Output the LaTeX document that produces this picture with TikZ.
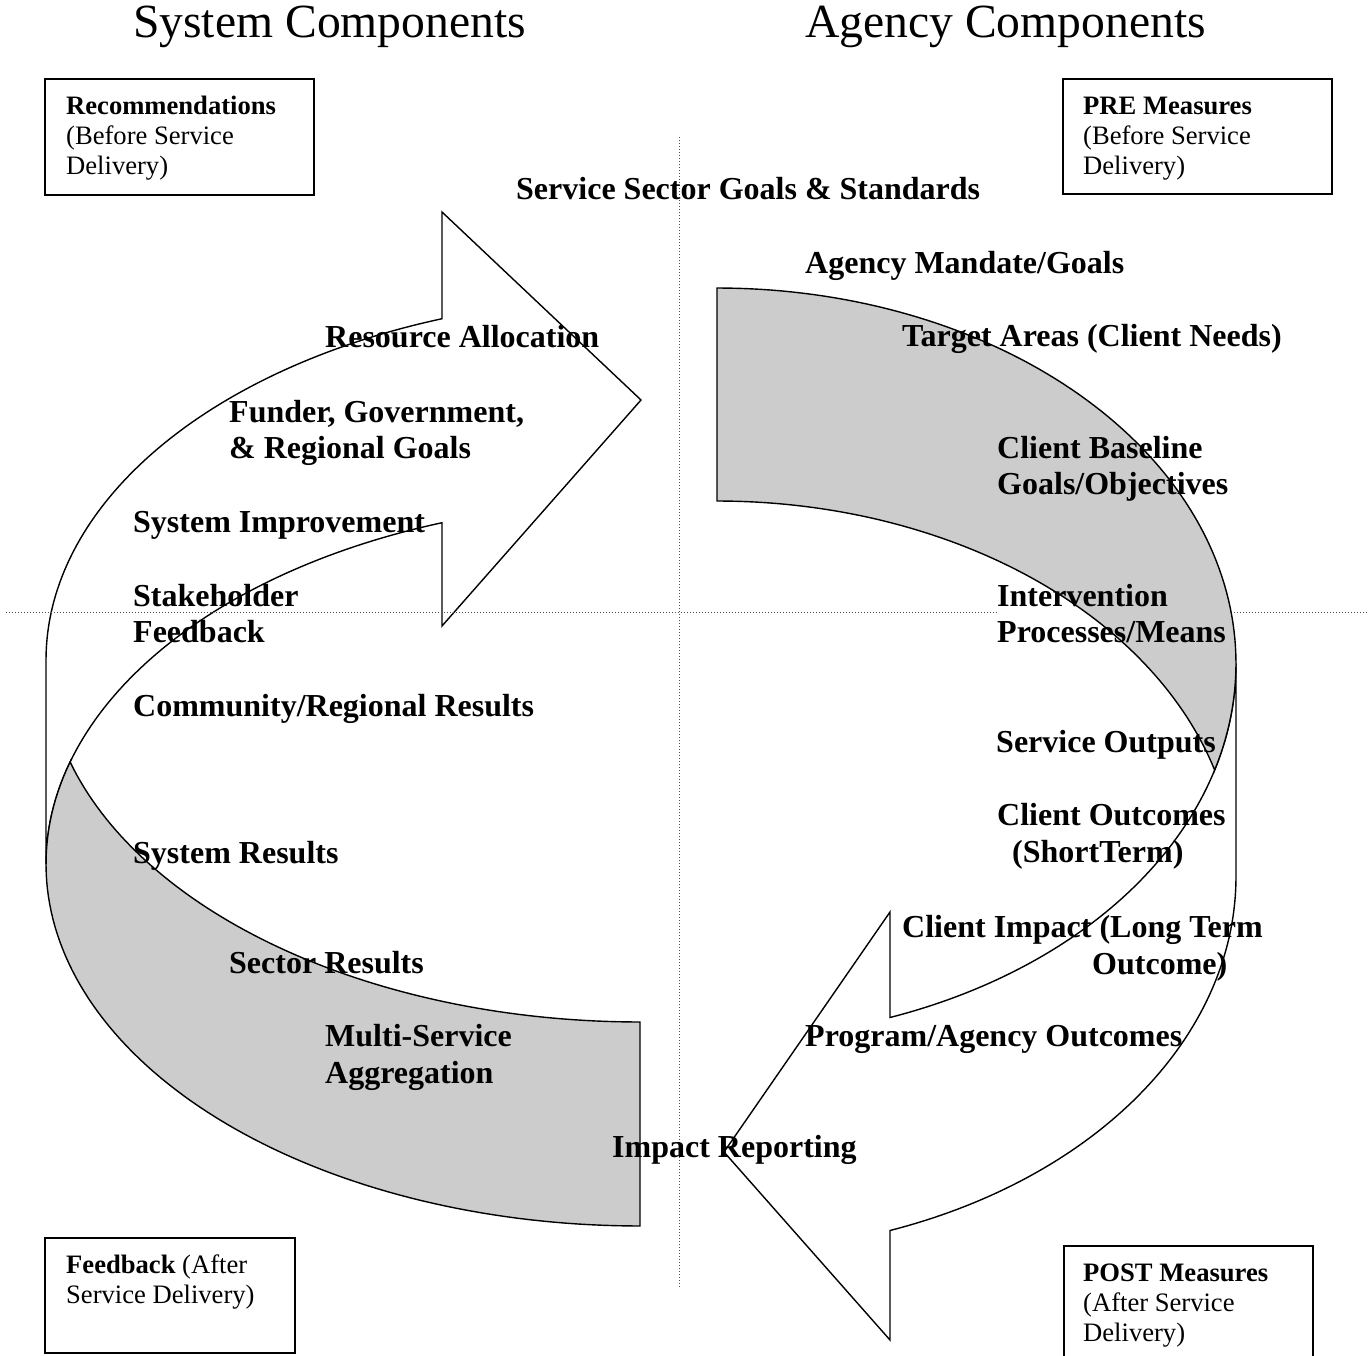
\documentclass[tikz,border=0pt]{standalone}
\usepackage{fontspec}
\setmainfont{Liberation Serif}
\definecolor{bandgray}{HTML}{CCCCCC}
\begin{document}
\begin{tikzpicture}[x=1pt,y=-1pt,
  shapeline/.style={line width=1.4pt, line join=miter},
  lbl/.style={anchor=base west, inner sep=0pt, font=\fontsize{32}{36.8}\selectfont\bfseries},
  boxtext/.style={anchor=base west, inner sep=0pt, font=\fontsize{26.6}{30}\selectfont},
  titletext/.style={anchor=base west, inner sep=0pt, font=\fontsize{47.6}{55}\selectfont},
  infobox/.style={draw, line width=1.8pt},
  guide/.style={line width=1pt, black!70, dash pattern=on 1pt off 2pt},
]
\clip (0,0) rectangle (1369,1356);
\fill[white] (0,0) rectangle (1369,1356);

% ---- left curved arrow (System side) ----
\filldraw[shapeline, fill=white]
  plot[domain=180:250.53,samples=70] ({640+594*cos(\x)},{660+362*sin(\x)})
  -- (442,212) -- (641,400) -- (442,626)
  -- plot[domain=250.53:180,samples=70] ({640+594*cos(\x)},{864+362*sin(\x)})
  -- cycle;
\filldraw[shapeline, fill=bandgray]
  plot[domain=163.63:90,samples=70] ({640+594*cos(\x)},{660+362*sin(\x)})
  -- plot[domain=90:196.37,samples=90] ({640+594*cos(\x)},{864+362*sin(\x)})
  -- cycle;

% ---- right curved arrow (Agency side) ----
\filldraw[shapeline, fill=white]
  plot[domain=0:70.53,samples=70] ({717+519*cos(\x)},{876.5+375.5*sin(\x)})
  -- (890,1340) -- (724,1152) -- (890,912)
  -- plot[domain=70.53:0,samples=70] ({717+519*cos(\x)},{663.5+375.5*sin(\x)})
  -- cycle;
\filldraw[shapeline, fill=bandgray]
  plot[domain=-16.48:-90,samples=70] ({717+519*cos(\x)},{876.5+375.5*sin(\x)})
  -- plot[domain=-90:16.48,samples=90] ({717+519*cos(\x)},{663.5+375.5*sin(\x)})
  -- cycle;

% ---- dotted quadrant guides ----
\coordinate (hl1) at (6,612);
\coordinate (hl2) at (997,612);
\coordinate (hr1) at (1234,612);
\coordinate (hr2) at (1369,612);
\coordinate (vt) at (679,137);
\coordinate (vb) at (679,1288);
\draw[guide] (hl1) -- (hl2);
\draw[guide] (hr1) -- (hr2);
\draw[guide] (vt) -- (vb);

% ---- titles ----
\node[titletext] (t1) at (133,38) {System Components};
\node[titletext] (t2) at (805,38) {Agency Components};

% ---- corner boxes ----
\draw[infobox] (45,79) rectangle (314,195);
\node[boxtext] (rec1) at (66,115) {\bfseries Recommendations};
\node[boxtext] (rec2) at (66,145) {(Before Service};
\node[boxtext] (rec3) at (66,175) {Delivery)};

\draw[infobox] (1063,79) rectangle (1332,194);
\node[boxtext] (pre1) at (1083,115) {\bfseries PRE Measures};
\node[boxtext] (pre2) at (1083,145) {(Before Service};
\node[boxtext] (pre3) at (1083,175) {Delivery)};

\draw[infobox] (45,1238) rectangle (295,1353);
\node[boxtext] (fb1) at (66,1273) {{\bfseries Feedback} (After};
\node[boxtext] (fb2) at (66,1303) {Service Delivery)};

\draw[infobox] (1064,1246) rectangle (1313,1400);
\node[boxtext] (post1) at (1083,1281) {\bfseries POST Measures};
\node[boxtext] (post2) at (1083,1311) {(After Service};
\node[boxtext] (post3) at (1083,1341) {Delivery)};

% ---- labels ----
\node[lbl] (ssg) at (516,200) {Service Sector Goals \& Standards};
\node[lbl] (amg) at (805,274) {Agency Mandate/Goals};
\node[lbl] (ra) at (325,348) {Resource Allocation};
\node[lbl] (ta) at (902,347) {Target Areas (Client Needs)};
\node[lbl] (fg1) at (229,422) {Funder, Government,};
\node[lbl] (fg2) at (229,458) {\& Regional Goals};
\node[lbl] (cb1) at (997,458) {Client Baseline};
\node[lbl] (cb2) at (997,494) {Goals/Objectives};
\node[lbl] (si) at (133,532) {System Improvement};
\node[lbl] (sf1) at (133,606) {Stakeholder};
\node[lbl] (sf2) at (133,642) {Feedback};
\node[lbl] (ip1) at (997,606) {Intervention};
\node[lbl] (ip2) at (997,642) {Processes/Means};
\node[lbl] (crr) at (133,716) {Community/Regional Results};
\node[lbl] (so) at (996,752) {Service Outputs};
\node[lbl] (co1) at (997,825) {Client Outcomes};
\node[lbl] (co2) at (1012,862) {(ShortTerm)};
\node[lbl] (sr) at (133,863) {System Results};
\node[lbl] (ci1) at (902,937) {Client Impact (Long Term};
\node[lbl] (ci2) at (1092,974) {Outcome)};
\node[lbl] (secr) at (229,973) {Sector Results};
\node[lbl] (pao) at (805,1046) {Program/Agency Outcomes};
\node[lbl] (ms1) at (325,1046) {Multi-Service};
\node[lbl] (ms2) at (325,1083) {Aggregation};
\node[lbl] (irp) at (612,1157) {Impact Reporting};
\end{tikzpicture}
\end{document}
